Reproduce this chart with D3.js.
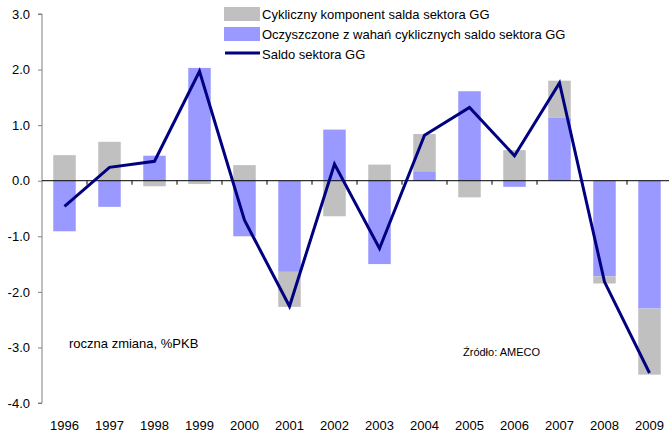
<!DOCTYPE html>
<html lang="pl">
<head>
  <meta charset="UTF-8" />
  <title>Saldo sektora GG</title>
  <style>
    body { margin: 0; background: #fff; }
    svg { display: block; font-family: "Liberation Sans", Arial, sans-serif; }
  </style>
</head>
<body>
  <div id="chart"></div>
  <script src="https://d3js.org/d3.v7.min.js"></script>
  <script>
    const years = ["1996","1997","1998","1999","2000","2001","2002","2003","2004","2005","2006","2007","2008","2009"];
    // cykliczny komponent (grey)
    const cyclical = [0.46, 0.70, -0.10, -0.06, 0.28, -0.63, -0.64, 0.29, 0.67, -0.30, 0.55, 0.66, -0.13, -1.19];
    // oczyszczone z wahan cyklicznych (blue)
    const adjusted = [-0.91, -0.47, 0.45, 2.03, -1.00, -1.64, 0.92, -1.50, 0.17, 1.61, -0.11, 1.14, -1.72, -2.30];
    // saldo sektora GG (line)
    const balance = [-0.46, 0.24, 0.35, 1.97, -0.71, -2.26, 0.30, -1.22, 0.82, 1.32, 0.45, 1.76, -1.82, -3.46];
    const yTicks = [3, 2, 1, 0, -1, -2, -3, -4];

    const W = 669, H = 434;
    const plotLeft = 42, plotTop = 14, plotBottom = 403;

    const svg = d3.select("#chart").append("svg")
      .attr("width", W).attr("height", H);

    const x = d3.scaleBand().domain(years).range([plotLeft, plotLeft + 45 * years.length]).paddingInner(0.5).paddingOuter(0.25);
    const y = d3.scaleLinear().domain([-4, 3]).range([plotBottom, plotTop]);

    const rows = years.map((yr, i) => ({ year: yr, adjusted: adjusted[i], cyclical: cyclical[i] }));
    const stack = d3.stack().keys(["adjusted", "cyclical"]).offset(d3.stackOffsetDiverging);
    const series = stack(rows);
    const colors = { adjusted: "#9999ff", cyclical: "#c0c0c0" };

    svg.append("g").selectAll("g")
      .data(series)
      .join("g")
      .attr("fill", d => colors[d.key])
      .selectAll("rect")
      .data(d => d)
      .join("rect")
      .attr("x", d => x(d.data.year))
      .attr("width", x.bandwidth())
      .attr("y", d => y(Math.max(d[0], d[1])))
      .attr("height", d => Math.abs(y(d[0]) - y(d[1])));

    // y axis
    const yAxis = svg.append("g")
      .attr("transform", `translate(${plotLeft},0)`)
      .call(d3.axisLeft(y).tickValues(yTicks).tickSize(4).tickPadding(8).tickFormat(d3.format(".1f")));
    yAxis.select(".domain").attr("stroke", "#808080").attr("d", `M-4,${y(3)}H0V${y(-4)}H-4`);
    yAxis.selectAll(".tick line").attr("stroke", "#808080");
    yAxis.selectAll(".tick text").attr("font-size", 13).attr("fill", "#000")
      .text(d => d < 0 ? "-" + Math.abs(d).toFixed(1) : d.toFixed(1));

    // zero line with category ticks
    const zero = svg.append("g").attr("transform", `translate(0,${y(0)})`);
    zero.append("line").attr("x1", plotLeft).attr("x2", W).attr("stroke", "#000").attr("stroke-width", 1);
    const step = x.step();
    zero.selectAll("line.tk")
      .data(years.slice(1))
      .join("line")
      .attr("class", "tk")
      .attr("x1", d => x(d) - (step - x.bandwidth()) / 2)
      .attr("x2", d => x(d) - (step - x.bandwidth()) / 2)
      .attr("y1", 0).attr("y2", 4)
      .attr("stroke", "#000");

    // year labels
    svg.append("g").selectAll("text")
      .data(years)
      .join("text")
      .attr("x", d => x(d) + x.bandwidth() / 2)
      .attr("y", 430)
      .attr("text-anchor", "middle")
      .attr("font-size", 13)
      .text(d => d);

    // line
    const line = d3.line()
      .x((d, i) => x(years[i]) + x.bandwidth() / 2)
      .y(d => y(d));
    svg.append("path")
      .datum(balance)
      .attr("fill", "none")
      .attr("stroke", "#000080")
      .attr("stroke-width", 3)
      .attr("stroke-linejoin", "miter")
      .attr("d", line);

    // legend
    const legend = [
      { label: "Cykliczny komponent salda sektora GG", type: "rect", color: "#c0c0c0" },
      { label: "Oczyszczone z wahań cyklicznych saldo sektora GG", type: "rect", color: "#9999ff" },
      { label: "Saldo sektora GG", type: "line", color: "#000080" }
    ];
    const lg = svg.append("g").attr("transform", "translate(224,7)");
    legend.forEach((d, i) => {
      const gy = i * 20;
      if (d.type === "rect") {
        lg.append("rect").attr("x", 0).attr("y", gy).attr("width", 36).attr("height", 14).attr("fill", d.color);
      } else {
        lg.append("line").attr("x1", 1).attr("x2", 36).attr("y1", gy + 6).attr("y2", gy + 6)
          .attr("stroke", d.color).attr("stroke-width", 3);
      }
      lg.append("text").attr("x", 38).attr("y", gy + 12).attr("font-size", 13).text(d.label);
    });

    svg.append("text").attr("x", 69).attr("y", 348).attr("font-size", 13).text("roczna zmiana, %PKB");
    svg.append("text").attr("x", 463).attr("y", 356).attr("font-size", 11).text("Źródło: AMECO");
  </script>
</body>
</html>
